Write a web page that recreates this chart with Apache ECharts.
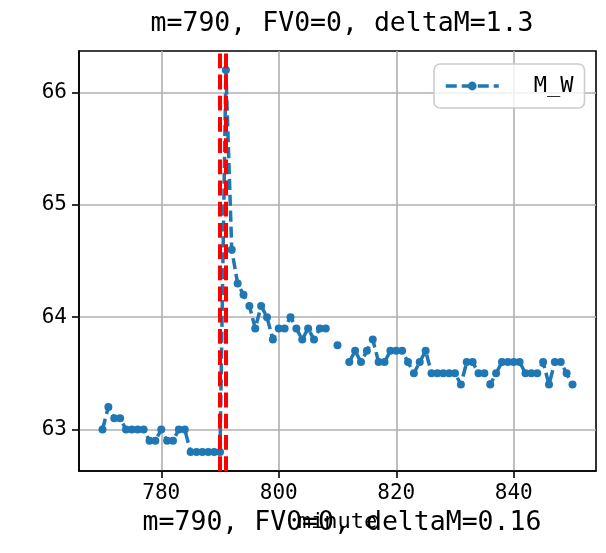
<!DOCTYPE html>
<html><head><meta charset="utf-8">
<script src="https://cdn.jsdelivr.net/npm/echarts@6/dist/echarts.min.js"></script>
<style>html,body{margin:0;padding:0;background:#fff}#c{width:606px;height:553px}</style>
</head><body><div id="c"></div>
<script>
const minutes = [770,771,772,773,774,775,776,777,778,779,780,781,782,783,784,785,786,787,788,789,790,
  791,792,793,794,795,796,797,798,799,800,801,802,803,804,805,806,807,808,809,810,
  811,812,813,814,815,816,817,818,819,820,821,822,823,824,825,826,827,828,829,830,
  831,832,833,834,835,836,837,838,839,840,841,842,843,844,845,846,847,848,849,850];
const mW = [63.0,63.2,63.1,63.1,63.0,63.0,63.0,63.0,62.9,62.9,63.0,62.9,62.9,63.0,63.0,62.8,62.8,62.8,62.8,62.8,62.8,
  66.2,64.6,64.3,64.2,64.1,63.9,64.1,64.0,63.8,63.9,63.9,64.0,63.9,63.8,63.9,63.8,63.9,63.9,null,63.75,
  null,63.6,63.7,63.6,63.7,63.8,63.6,63.6,63.7,63.7,63.7,63.6,63.5,63.6,63.7,63.5,63.5,63.5,63.5,63.5,
  63.4,63.6,63.6,63.5,63.5,63.4,63.5,63.6,63.6,63.6,63.6,63.5,63.5,63.5,63.6,63.4,63.6,63.6,63.5,63.4];
const xTicks = [780,800,820,840];
const yTicks = [63,64,65,66];
const eventMinutes = [790,791];
const seriesName = 'M_W';
const titleText = 'm=790, FV0=0, deltaM=1.3';
const subText = 'm=790, FV0=0, deltaM=0.16';
const xName = 'minute';

const FONT = 'DejaVu Sans Mono';
const pts = minutes.map((m,i)=>[m, mW[i]===null ? '-' : mW[i]]);
const xMin = Math.min(...minutes), xMax = Math.max(...minutes);
const vals = mW.filter(v=>v!==null);
const yLo = Math.min(...vals), yHi = Math.max(...vals);
const xPad = (xMax-xMin)*0.05, yPad = (yHi-yLo)*0.05;

const chart = echarts.init(document.getElementById('c'), null, {renderer:'canvas'});
chart.setOption({
  animation:false,
  backgroundColor:'#ffffff',
  title:[
    {text:titleText, left:337, top:6, textAlign:'center',
     textStyle:{fontFamily:FONT, fontSize:26.5, fontWeight:'normal', color:'#000'}},
    {text:subText, left:337, top:505, textAlign:'center',
     textStyle:{fontFamily:FONT, fontSize:26.5, fontWeight:'normal', color:'#000'}}
  ],
  legend:{
    left:434, top:64, orient:'horizontal',
    padding:[10,11,10,10],
    backgroundColor:'rgba(255,255,255,0.8)',
    borderColor:'#cccccc', borderWidth:1.6, borderRadius:6,
    itemWidth:53, itemHeight:11,
    lineStyle:{width:3.5, type:[11,5]},
    textStyle:{fontFamily:FONT, fontSize:22, color:'#000', padding:[0,0,0,30], lineHeight:24},
    data:[seriesName]
  },
  grid:{left:79, right:10, top:51, bottom:82, show:true, borderColor:'#000', borderWidth:1.6, backgroundColor:'transparent'},
  xAxis:{
    type:'value', min:xMin-xPad, max:xMax+xPad,
    name:xName, nameLocation:'middle', nameGap:40,
    nameTextStyle:{fontFamily:FONT, fontSize:22, color:'#000'},
    axisLine:{show:true, onZero:false, lineStyle:{color:'#000', width:1.6}},
    axisTick:{show:true, customValues:xTicks, length:7, lineStyle:{color:'#000', width:1.6}},
    axisLabel:{customValues:xTicks, margin:12, fontFamily:FONT, fontSize:21, color:'#000'},
    splitLine:{show:true, lineStyle:{color:'#b0b0b0', width:1.6}}
  },
  yAxis:{
    type:'value', min:yLo-yPad, max:yHi+yPad,
    axisLine:{show:true, onZero:false, lineStyle:{color:'#000', width:1.6}},
    axisTick:{show:true, customValues:yTicks, length:7, lineStyle:{color:'#000', width:1.6}},
    axisLabel:{customValues:yTicks, margin:12, fontFamily:FONT, fontSize:21, color:'#000'},
    splitLine:{show:true, lineStyle:{color:'#b0b0b0', width:1.6}}
  },
  series:[
    {
      name:'events', type:'line', data:[], z:2, silent:true,
      markLine:{
        silent:true, symbol:['none','none'], animation:false,
        label:{show:false},
        lineStyle:{color:'#ff0000', width:4, type:[14.8,6.4]},
        emphasis:{disabled:true},
        data:eventMinutes.map(v=>({xAxis:v}))
      }
    },
    {
      name:seriesName, type:'line', data:pts, z:3,
      connectNulls:false,
      symbol:'circle', symbolSize:8, showSymbol:true,
      itemStyle:{color:'#1f77b4'},
      lineStyle:{color:'#1f77b4', width:3.5, type:[11.1,4.8]},
      emphasis:{disabled:true}
    }
  ]
});
</script>
</body></html>
